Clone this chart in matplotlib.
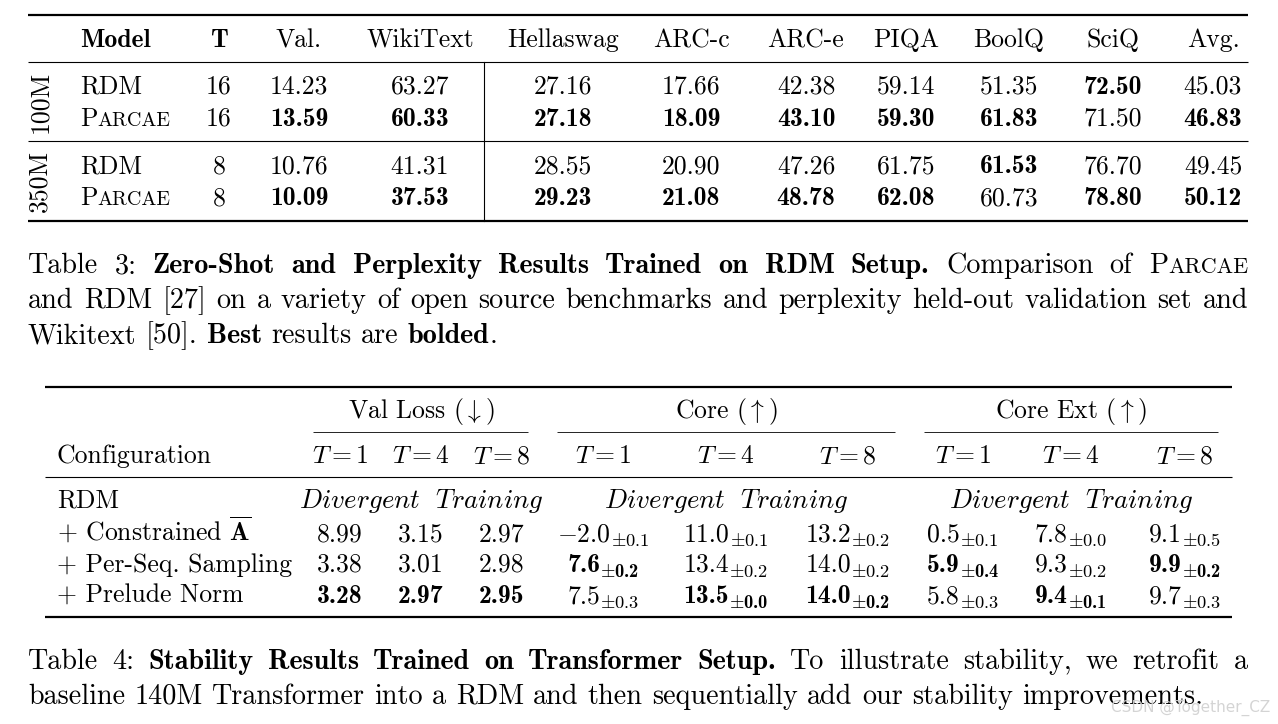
import matplotlib
matplotlib.use("Agg")
import matplotlib.pyplot as plt

plt.rcParams['mathtext.fontset'] = 'cm'
plt.rcParams['axes.unicode_minus'] = False

# ---------------- data ----------------
t3_cols = ["Val.", "WikiText", "Hellaswag", "ARC-c", "ARC-e", "PIQA", "BoolQ", "SciQ", "Avg."]
t3_sizes = ["100M", "350M"]
t3_models = ["RDM", "Parcae", "RDM", "Parcae"]
t3_T = [16, 16, 8, 8]
val = [14.23, 13.59, 10.76, 10.09]
wiki = [63.27, 60.33, 41.31, 37.53]
hella = [27.16, 27.18, 28.55, 29.23]
arcc = [17.66, 18.09, 20.90, 21.08]
arce = [42.38, 43.10, 47.26, 48.78]
piqa = [59.14, 59.30, 61.75, 62.08]
boolq = [51.35, 61.83, 61.53, 60.73]
sciq = [72.50, 71.50, 76.70, 78.80]
avg = [45.03, 46.83, 49.45, 50.12]
t3_data = [val, wiki, hella, arcc, arce, piqa, boolq, sciq, avg]
t3_lower_better = [True, True] + [False] * 7

t4_groups = ["Val Loss ($\\downarrow$)", "Core ($\\uparrow$)", "Core Ext ($\\uparrow$)"]
t4_T = [1, 4, 8]
t4_rows = ["+ Constrained $\\overline{\\mathbf{A}}$", "+ Per-Seq. Sampling", "+ Prelude Norm"]
val_loss = [[8.99, 3.15, 2.97], [3.38, 3.01, 2.98], [3.28, 2.97, 2.95]]
core_mean = [[-2.0, 11.0, 13.2], [7.6, 13.4, 14.0], [7.5, 13.5, 14.0]]
core_std = [[0.1, 0.1, 0.2], [0.2, 0.2, 0.2], [0.3, 0.0, 0.2]]
ext_mean = [[0.5, 7.8, 9.1], [5.9, 9.3, 9.9], [5.8, 9.4, 9.7]]
ext_std = [[0.1, 0.0, 0.5], [0.4, 0.2, 0.2], [0.3, 0.1, 0.3]]

# ---------------- figure ----------------
fig = plt.figure(figsize=(12.78, 7.24), dpi=100)
ax = fig.add_axes([0, 0, 1, 1])
ax.set_xlim(0, 1278); ax.set_ylim(724, 0); ax.axis('off')
R = fig.canvas.get_renderer()
RM, BF = 'cmr10', 'cmb10'
TS = 18.5   # table font size
CS = 20.3   # caption font size

def txt(x, y, s, font=RM, size=TS, ha='center', **kw):
    return ax.text(x, y, s, family=font, fontsize=size, ha=ha, va='baseline', **kw)

def width(t):
    return t.get_window_extent(R).width

def place_line(x, y, tokens, size, justify=None):
    arts = []
    for tok in tokens:
        parts = []
        for s, f, fac in tok:
            parts.append(txt(0, y, s, f, size * fac, ha='left'))
        arts.append(parts)
    widths = [sum(width(p) for p in parts) for parts in arts]
    sp = size * 100 / 72 * 0.33
    if justify and len(arts) > 1:
        sp = (justify - sum(widths)) / (len(arts) - 1)
    cx = x
    for parts, w in zip(arts, widths):
        px = cx
        for p in parts:
            p.set_x(px); px += width(p)
        cx += w + sp

def hl(y, x0, x1, lw):
    ax.plot([x0, x1], [y, y], color='black', lw=lw, solid_capstyle='butt')

def parcae(x, y, size):
    a = txt(x, y, "P", RM, size, ha='left')
    txt(x + width(a), y, "ARCAE", RM, size * 0.78, ha='left')

def mean_std(x, y, m, s, bold):
    f = BF if bold else RM
    ms = m.replace('-', '$-$')
    a = txt(0, y, ms, f, TS, ha='left')
    b = txt(0, y + 5, "$\\pm$" + s, f, TS * 0.72, ha='left')
    wa, wb = width(a), width(b)
    x0 = x - (wa + wb) / 2
    a.set_x(x0); b.set_x(x0 + wa)

# ---------------- Table 3 ----------------
cx3 = [299, 420, 563, 691, 806, 906, 1009, 1113, 1213]
rows_y = [94, 126, 173, 205]
hl(15, 28, 1248, 1.6); hl(62, 28, 1248, 0.8); hl(141, 28, 1248, 0.8); hl(221, 28, 1248, 1.6)
ax.plot([484, 484], [62, 221], color='black', lw=0.8)
txt(80, 47, "Model", BF, ha='left'); txt(219, 47, "T", BF)
for c, x in zip(t3_cols, cx3):
    txt(x, 47, c)
for i, s in enumerate(t3_sizes):
    ax.text(40, (rows_y[2 * i] + rows_y[2 * i + 1]) / 2 - 8, s, family=RM, fontsize=TS,
            rotation=90, ha='center', va='center')
for r, (m, T, y) in enumerate(zip(t3_models, t3_T, rows_y)):
    if m == "Parcae":
        parcae(80, y, TS)
    else:
        txt(80, y, m, ha='left')
    txt(219, y, str(T))
    g = r // 2
    for col, x, low in zip(t3_data, cx3, t3_lower_better):
        grp = col[2 * g:2 * g + 2]
        best = min(grp) if low else max(grp)
        txt(x, y, f"{col[r]:.2f}", BF if col[r] == best else RM)

W = 1220
place_line(28, 273, [[("Table", RM, 1)], [("3:", RM, 1)]] +
           [[(w, BF, 1)] for w in "Zero-Shot and Perplexity Results Trained on RDM Setup.".split()] +
           [[(w, RM, 1)] for w in "Comparison of".split()] +
           [[("P", RM, 1), ("ARCAE", RM, 0.78)]], CS, justify=W)
place_line(28, 308, [[(w, RM, 1)] for w in
           "and RDM [27] on a variety of open source benchmarks and perplexity held-out validation set and".split()],
           CS, justify=W)
place_line(28, 343, [[("Wikitext", RM, 1)], [("[50].", RM, 1)], [("Best", BF, 1)], [("results", RM, 1)],
                     [("are", RM, 1)], [("bolded", BF, 1), (".", RM, 1)]], CS)

# ---------------- Table 4 ----------------
gcx = [421, 726, 1071]
tcx = [[340, 421, 502], [603, 726, 848], [963, 1071, 1185]]
spans = [(313, 528), (557, 895), (924, 1218)]
hl(387, 45, 1232, 1.6); hl(477, 45, 1232, 0.8); hl(617, 45, 1232, 1.6)
for g, x, (a, b) in zip(t4_groups, gcx, spans):
    txt(x, 418, g)
    hl(432, a, b, 0.6)
txt(57, 463, "Configuration", ha='left')
for grp in tcx:
    for T, x in zip(t4_T, grp):
        txt(x, 463, f"$T = {T}$")
y4 = [508, 541, 572, 603]
txt(57, y4[0], "RDM", ha='left')
for x in gcx:
    txt(x, y4[0], "$\\mathit{Divergent}\\ \\ \\mathit{Training}$", size=TS * 1.05)

def best_idx(col, low):
    b = min(col) if low else max(col)
    return max(i for i, v in enumerate(col) if v == b)

for r, name in enumerate(t4_rows):
    y = y4[r + 1]
    txt(57, y, name, ha='left')
    for j in range(3):
        b = best_idx([val_loss[k][j] for k in range(3)], True)
        txt(tcx[0][j], y, f"{val_loss[r][j]:.2f}", BF if r == b else RM)
        for gi, (M, S) in enumerate([(core_mean, core_std), (ext_mean, ext_std)]):
            b = best_idx([M[k][j] for k in range(3)], False)
            mean_std(tcx[gi + 1][j], y, f"{M[r][j]:.1f}", f"{S[r][j]:.1f}", r == b)

place_line(28, 669, [[("Table", RM, 1)], [("4:", RM, 1)]] +
           [[(w, BF, 1)] for w in "Stability Results Trained on Transformer Setup.".split()] +
           [[(w, RM, 1)] for w in "To illustrate stability, we retrofit a".split()], CS, justify=W)
place_line(28, 704, [[(w, RM, 1)] for w in
           "baseline 140M Transformer into a RDM and then sequentially add our stability improvements.".split()], CS)

ax.text(1270, 712, "CSDN @Together_CZ", family='DejaVu Sans', fontsize=11, color='#d0d0d0',
        ha='right', va='baseline', alpha=0.9)

fig.savefig("out.png", dpi=100)
